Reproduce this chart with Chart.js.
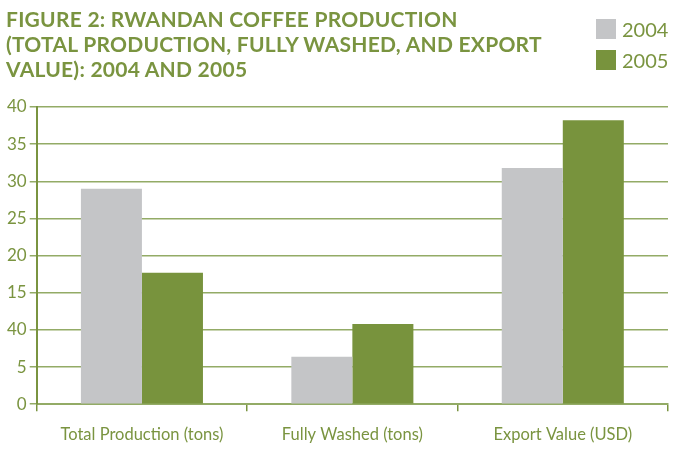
<!DOCTYPE html>
<html>
<head>
<meta charset="utf-8">
<script src="https://cdn.jsdelivr.net/npm/chart.js@4.4.1/dist/chart.umd.min.js"></script>
<style>
    html, body { margin: 0; padding: 0; background: #fff; }
    #wrap { position: relative; width: 673px; height: 451px; overflow: hidden; }
    #title {
        position: absolute; left: 6px; top: 6px;
        font-family: Lato, "Open Sans", sans-serif; font-weight: bold;
        font-size: 21px; line-height: 25px; color: #7a9440;
        letter-spacing: 0.25px;
        margin: 0;
    }
    #legend { position: absolute; left: 596px; top: 13px; font-family: Lato, sans-serif; }
    .item { display: flex; align-items: center; height: 31px; font-size: 20px; color: #7a9440; }
    .swatch { width: 20px; height: 20px; margin-right: 6px; }
    canvas { position: absolute; left: 0; top: 0; }
</style>
</head>
<body>
<div id="wrap">
    <canvas id="coffeeChart" width="673" height="451"></canvas>
    <h1 id="title">FIGURE 2: RWANDAN COFFEE PRODUCTION<br>(TOTAL PRODUCTION, FULLY WASHED, AND EXPORT<br>VALUE): 2004 AND 2005</h1>
    <div id="legend"></div>
</div>
<script>
// Chart data
const categories = ['Total Production (tons)', 'Fully Washed (tons)', 'Export Value (USD)'];
const values2004 = [29, 6.4, 31.8];
const values2005 = [17.7, 10.8, 38.2];
// tick labels as printed in the figure (the "10" reads "40" there)
const yTickLabels = ['0', '5', '40', '15', '20', '25', '30', '35', '40'];

const grey = '#c4c5c7';
const green = '#78933d';
const textGreen = '#7a9440';

// Build the little legend next to the title
const legendBox = document.getElementById('legend');
[['2004', grey], ['2005', green]].forEach(([label, color]) => {
    const item = document.createElement('div');
    item.className = 'item';
    item.innerHTML = `<span class="swatch" style="background:${color}"></span>${label}`;
    legendBox.appendChild(item);
});

const ctx = document.getElementById('coffeeChart').getContext('2d');
new Chart(ctx, {
    type: 'bar',
    data: {
        labels: categories,
        datasets: [
            { label: '2004', data: values2004, backgroundColor: grey },
            { label: '2005', data: values2005, backgroundColor: green }
        ]
    },
    options: {
        responsive: false,
        animation: false,
        layout: { padding: { top: 107, right: 5, left: 4, bottom: -8 } },
        datasets: { bar: { categoryPercentage: 0.58, barPercentage: 1.0 } },
        plugins: {
            legend: { display: false },
            title: { display: false },
            tooltip: { enabled: false }
        },
        scales: {
            x: {
                grid: {
                    offset: true,
                    drawOnChartArea: false,
                    color: textGreen,
                    lineWidth: 1.5,
                    tickLength: 7
                },
                border: { color: '#93ab66', width: 2 },
                ticks: {
                    color: textGreen,
                    font: { family: 'Lato', size: 16.5 },
                    padding: 14
                }
            },
            y: {
                min: 0,
                max: 40,
                grid: {
                    color: '#93ab66',
                    lineWidth: 1.5,
                    tickLength: 7
                },
                border: { color: textGreen, width: 2 },
                ticks: {
                    stepSize: 5,
                    color: textGreen,
                    font: { family: 'Lato', size: 17 },
                    padding: 3,
                    callback: function (value, index) {
                        return yTickLabels[index];
                    }
                }
            }
        }
    }
});
</script>
</body>
</html>
